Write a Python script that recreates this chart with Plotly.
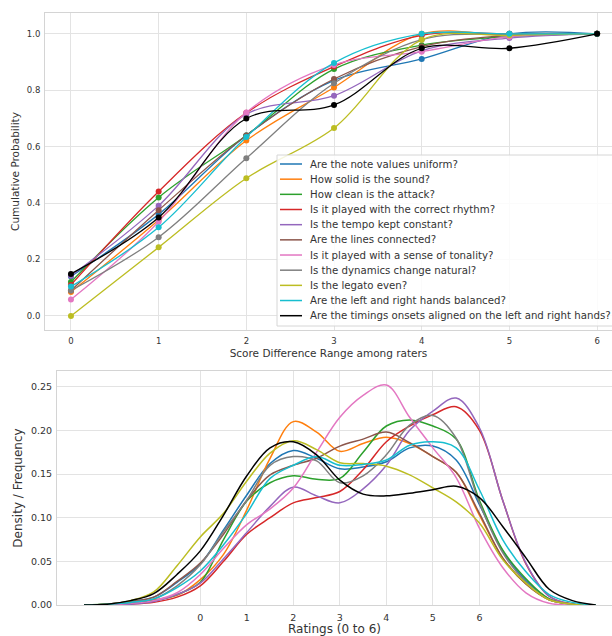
import plotly.graph_objects as go

W, H = 612, 636

names = [
    "Are the note values uniform?",
    "How solid is the sound?",
    "How clean is the attack?",
    "Is it played with the correct rhythm?",
    "Is the tempo kept constant?",
    "Are the lines connected?",
    "Is it played with a sense of tonality?",
    "Is the dynamics change natural?",
    "Is the legato even?",
    "Are the left and right hands balanced?",
    "Are the timings onsets aligned on the left and right hands?",
]
colors = ["#1f77b4", "#ff7f0e", "#2ca02c", "#d62728", "#9467bd", "#8c564b",
          "#e377c2", "#7f7f7f", "#bcbd22", "#17becf", "#000000"]

# ---- top: cumulative probability vs score difference range ----
diff_range = [0, 1, 2, 3, 4, 5, 6]
cum_uniform   = [0.140, 0.360, 0.640, 0.835, 0.911, 1.000, 1.000]
cum_solid     = [0.085, 0.340, 0.622, 0.810, 1.000, 0.995, 1.000]
cum_attack    = [0.120, 0.420, 0.640, 0.875, 0.960, 0.990, 1.000]
cum_rhythm    = [0.110, 0.441, 0.720, 0.884, 0.995, 1.000, 1.000]
cum_tempo     = [0.142, 0.391, 0.715, 0.781, 0.940, 0.985, 1.000]
cum_lines     = [0.090, 0.375, 0.640, 0.840, 0.955, 0.995, 1.000]
cum_tonality  = [0.058, 0.334, 0.721, 0.890, 0.937, 0.990, 1.000]
cum_dynamics  = [0.090, 0.279, 0.559, 0.825, 0.980, 1.000, 1.000]
cum_legato    = [0.000, 0.243, 0.488, 0.666, 0.979, 0.995, 1.000]
cum_balance   = [0.104, 0.314, 0.634, 0.897, 1.000, 1.000, 1.000]
cum_onsets    = [0.149, 0.349, 0.700, 0.748, 0.949, 0.949, 1.000]
cum_series = [cum_uniform, cum_solid, cum_attack, cum_rhythm, cum_tempo, cum_lines,
              cum_tonality, cum_dynamics, cum_legato, cum_balance, cum_onsets]

# ---- bottom: density curves of ratings ----
rating_x = [-2.5, -2, -1.5, -1, -0.5, 0, 0.5, 1, 1.5, 2, 2.5, 3, 3.5, 4, 4.5,
            5, 5.5, 6, 6.5, 7, 7.5, 8, 8.5]
den_uniform  = [0, .001, .004, .009, .026, .047, .086, .126, .162, .177, .168, .156, .158, .164, .180, .182, .166, .115, .062, .028, .007, .001, 0]
den_solid    = [0, .001, .003, .006, .011, .029, .058, .109, .168, .210, .198, .176, .185, .192, .185, .170, .152, .103, .054, .024, .006, .001, 0]
den_attack   = [0, .001, .002, .005, .012, .026, .075, .119, .140, .148, .144, .145, .175, .205, .212, .205, .190, .120, .063, .030, .007, .001, 0]
den_rhythm   = [0, 0, .001, .003, .009, .022, .050, .081, .100, .117, .123, .130, .155, .187, .205, .218, .227, .200, .120, .047, .010, .001, 0]
den_tempo    = [0, 0, .001, .004, .012, .025, .053, .083, .113, .135, .125, .117, .133, .160, .200, .222, .237, .203, .120, .048, .010, .001, 0]
den_lines    = [0, .001, .004, .009, .027, .048, .081, .120, .149, .160, .168, .182, .190, .198, .186, .170, .152, .105, .054, .024, .006, .001, 0]
den_tonality = [0, 0, .002, .005, .014, .035, .065, .092, .110, .134, .175, .215, .240, .252, .215, .180, .146, .088, .043, .014, .002, 0, 0]
den_dynamics = [0, .001, .003, .007, .022, .046, .084, .120, .160, .170, .165, .140, .148, .172, .206, .217, .191, .117, .060, .026, .006, .001, 0]
den_legato   = [0, .001, .005, .015, .045, .078, .105, .142, .174, .188, .178, .163, .162, .159, .149, .134, .118, .094, .052, .025, .006, .001, 0]
den_balance  = [0, .001, .003, .007, .020, .039, .069, .105, .145, .160, .170, .160, .161, .166, .183, .187, .180, .132, .075, .038, .012, .003, 0]
den_onsets   = [0, .001, .005, .013, .035, .062, .103, .148, .180, .187, .172, .143, .127, .125, .128, .132, .136, .123, .090, .054, .018, .005, 0]
den_series = [den_uniform, den_solid, den_attack, den_rhythm, den_tempo, den_lines,
              den_tonality, den_dynamics, den_legato, den_balance, den_onsets]

x_ticks_top = [0, 1, 2, 3, 4, 5, 6]
y_ticks_top = [0.0, 0.2, 0.4, 0.6, 0.8, 1.0]
x_ticks_bot = [0, 1, 2, 3, 4, 5, 6]
y_ticks_bot = [0.00, 0.05, 0.10, 0.15, 0.20, 0.25]

FONT = "DejaVu Sans"
TXT = "#333333"
GRID = "#e3e3e3"
FRAME = "#d4d4d4"

fig = go.Figure()

for name, col, ys in zip(names, colors, cum_series):
    fig.add_trace(go.Scatter(x=diff_range, y=ys, mode="lines+markers", name=name,
                             line=dict(color=col, width=1.3, shape="spline", smoothing=1.0),
                             marker=dict(color=col, size=6),
                             showlegend=False, xaxis="x", yaxis="y"))

for name, col, ys in zip(names, colors, den_series):
    fig.add_trace(go.Scatter(x=rating_x, y=ys, mode="lines", name=name,
                             line=dict(color=col, width=1.5, shape="spline", smoothing=1.0),
                             showlegend=False, xaxis="x2", yaxis="y2"))

# ---- legend box (drawn compactly, like the reference) ----
def px_x(p):
    return p / W

def px_y(p):
    return (H - p) / H

leg_top, leg_bot, leg_left = 155, 326, 277
row0, row_gap = 164.0, 15.17
shapes = [dict(type="rect", xref="paper", yref="paper",
               x0=px_x(leg_left), x1=px_x(W + 30), y0=px_y(leg_bot), y1=px_y(leg_top),
               fillcolor="rgba(255,255,255,0.85)", line=dict(color="#d6d6d6", width=1),
               layer="above")]
annotations = []
for i, (name, col) in enumerate(zip(names, colors)):
    yy = px_y(row0 + i * row_gap)
    shapes.append(dict(type="line", xref="paper", yref="paper",
                       x0=px_x(280), x1=px_x(302), y0=yy, y1=yy,
                       line=dict(color=col, width=1.5), layer="above"))
    annotations.append(dict(xref="paper", yref="paper", x=px_x(308), y=yy,
                            xanchor="left", yanchor="middle", showarrow=False,
                            text=name, font=dict(family=FONT, size=10.2, color=TXT)))

axis_common = dict(showgrid=True, gridcolor=GRID, gridwidth=1, zeroline=False,
                   showline=True, linecolor=FRAME, linewidth=1, mirror=True,
                   ticks="", automargin=False)

fig.update_layout(
    width=W, height=H,
    margin=dict(l=0, r=0, t=0, b=0),
    paper_bgcolor="white", plot_bgcolor="white",
    font=dict(family=FONT, color=TXT),
    showlegend=False,
    shapes=shapes,
    annotations=annotations,
    xaxis=dict(domain=[45 / W, 1.0], anchor="y", range=[-0.296, 6.17],
               tickvals=x_ticks_top, ticktext=[str(v) for v in x_ticks_top],
               tickfont=dict(family=FONT, size=8.5, color=TXT), ticklabelstandoff=3,
               title=dict(text="Score Difference Range among raters", standoff=4,
                          font=dict(family=FONT, size=10.5, color=TXT)),
               **axis_common),
    yaxis=dict(domain=[(H - 330) / H, (H - 13) / H], anchor="x", range=[-0.05, 1.074],
               tickvals=y_ticks_top, ticktext=[f"{v:.1f}" for v in y_ticks_top],
               tickfont=dict(family=FONT, size=8.5, color=TXT), ticklabelstandoff=2,
               title=dict(text="Cumulative Probability", standoff=5,
                          font=dict(family=FONT, size=10.5, color=TXT)),
               **axis_common),
    xaxis2=dict(domain=[57 / W, 1.0], anchor="y2", range=[-3.08, 8.85],
                tickvals=x_ticks_bot, ticktext=[str(v) for v in x_ticks_bot],
                tickfont=dict(family=FONT, size=9.5, color=TXT), ticklabelstandoff=4,
                title=dict(text="Ratings (0 to 6)", standoff=5,
                           font=dict(family=FONT, size=12, color=TXT)),
                **axis_common),
    yaxis2=dict(domain=[(H - 605) / H, (H - 371) / H], anchor="x2", range=[0, 0.268],
                tickvals=y_ticks_bot, ticktext=[f"{v:.2f}" for v in y_ticks_bot],
                tickfont=dict(family=FONT, size=9.5, color=TXT), ticklabelstandoff=2,
                title=dict(text="Density / Frequency", standoff=5,
                           font=dict(family=FONT, size=12, color=TXT)),
                **axis_common),
)

fig.write_html("out.html", config={"displayModeBar": False},
               post_script="document.body.style.margin='0';")
